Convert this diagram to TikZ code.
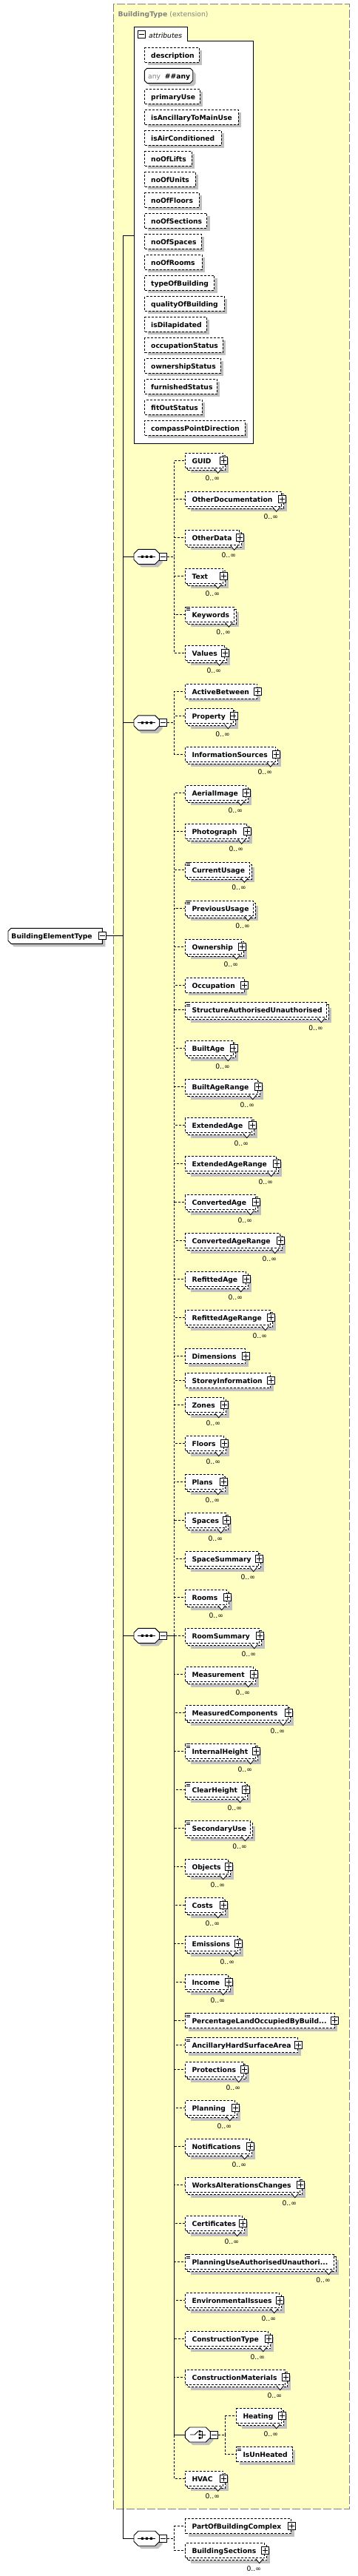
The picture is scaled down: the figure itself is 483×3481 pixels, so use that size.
\documentclass[tikz,border=0pt]{standalone}
\usepackage{fontspec}
\setmainfont{DejaVu Sans}
\usetikzlibrary{shadows}
\definecolor{boxyellow}{RGB}{255,255,196}
\definecolor{shadowgray}{RGB}{192,192,192}
\definecolor{framegray}{RGB}{128,128,128}
\newcommand\lblfont{\fontsize{9.2pt}{11pt}\selectfont}
\tikzset{
  lbl/.style={font=\lblfont\bfseries, inner sep=0pt, anchor=west, text height=8pt, text depth=0pt},
  occ/.style={font=\lblfont, inner sep=0pt, anchor=east, text height=6.6pt, text depth=0pt},
  dashstroke/.style={line width=0.9pt, dash pattern=on 3pt off 2pt},
  optline/.style={dashstroke},
  mainline/.style={line width=0.9pt},
  flatshadow/.style={drop shadow={shadow xshift=#1, shadow yshift=-#1, fill=shadowgray, opacity=1}},
  atbox/.style={draw, dashstroke, fill=white, anchor=west, inner sep=0pt, minimum height=20pt, flatshadow=4pt},
  elbox/.style={draw, dashstroke, fill=white, anchor=west, inner sep=0pt, minimum height=20pt, flatshadow=4pt},
  many/.style={flatshadow=7pt, copy shadow={shadow xshift=3pt, shadow yshift=-3pt, draw=black, fill=white, dashstroke}},
  pbox/.style={draw, solid, line width=0.8pt, fill=white, minimum size=10pt, inner sep=0pt,
    path picture={\draw[line width=0.8pt] ([xshift=-3.5pt]path picture bounding box.center) -- ([xshift=3.5pt]path picture bounding box.center) ([yshift=-3.5pt]path picture bounding box.center) -- ([yshift=3.5pt]path picture bounding box.center);}},
  mbox/.style={draw, solid, line width=0.8pt, fill=white, minimum size=10pt, inner sep=0pt,
    path picture={\draw[line width=0.8pt] ([xshift=-3.5pt]path picture bounding box.center) -- ([xshift=3.5pt]path picture bounding box.center);}},
  pics/seqsym/.style={code={
    \fill[shadowgray,xshift=4pt,yshift=-4pt] (-11.35,-10) -- (11.35,-10) -- (17.35,-4) -- (17.35,4) -- (11.35,10) -- (-11.35,10) -- (-17.35,4) -- (-17.35,-4) -- cycle;
    \filldraw[fill=white,line width=0.9pt] (-11.35,-10) -- (11.35,-10) -- (17.35,-4) -- (17.35,4) -- (11.35,10) -- (-11.35,10) -- (-17.35,4) -- (-17.35,-4) -- cycle;
    \node[inner sep=0pt, minimum width=34.7pt, minimum height=20pt] (-b) at (0,0) {};
    \draw[line width=0.9pt] (-12,0) -- (12,0);
    \fill (-7.6,-1.6) rectangle (-4.4,1.6) (-1.6,-1.6) rectangle (1.6,1.6) (4.4,-1.6) rectangle (7.6,1.6);
    \node[mbox] (-m) at (22.35,0) {};
  }},
  pics/choicesym/.style={code={
    \fill[shadowgray,xshift=4pt,yshift=-4pt] (-11,-10) -- (11,-10) -- (17,-4) -- (17,4) -- (11,10) -- (-11,10) -- (-17,4) -- (-17,-4) -- cycle;
    \filldraw[fill=white,line width=0.9pt] (-11,-10) -- (11,-10) -- (17,-4) -- (17,4) -- (11,10) -- (-11,10) -- (-17,4) -- (-17,-4) -- cycle;
    \node[inner sep=0pt, minimum width=34pt, minimum height=20pt] (-b) at (0,0) {};
    \draw[line width=0.9pt] (-10.5,0) -- (-4,0) -- (0.5,-4.5);
    \fill (1.2,-5.8) rectangle (3.8,-3.2) (1.2,-1.3) rectangle (3.8,1.3) (1.2,3.2) rectangle (3.8,5.8);
    \draw[line width=0.9pt] (3.8,-4.5) -- (6.5,-4.5) -- (6.5,4.5) -- (3.8,4.5) (3.8,0) -- (10.5,0);
    \node[mbox] (-m) at (22,0) {};
  }},
}
\newcommand\attr[3]{%
  \node[atbox, minimum width=#2pt-195.3pt] (#3) at (195.3,#1) {};
  \node[lbl] (#3-t) at ([xshift=8.7pt]#3.west) {#3};}
\newcommand\elem[6][]{%
  \node[elbox, #1, minimum width=#5pt-#3pt] (#2) at (#3,#4) {};
  \node[lbl] (#2-t) at ([xshift=9pt]#2.west) {#6};}
\newcommand\plus[1]{\node[pbox] (#1-p) at (#1.east) {};}
\newcommand\mult[1]{%
  \filldraw[fill=white, line width=0.8pt] ([xshift=-12.5pt,yshift=-0.5pt]#1.south east) -- ([xshift=-7.5pt,yshift=-6.5pt]#1.south east) -- ([xshift=-2.5pt,yshift=-0.5pt]#1.south east);
  \node[occ] (#1-o) at ([xshift=-5pt,yshift=-13.7pt]#1.south east) {0..∞};}
\newcommand\simple[1]{%
  \draw[line width=0.7pt] ([shift={(1.4pt,-0.3pt)}]#1.north west) -- ++(5pt,0pt) ([shift={(1.4pt,-2.6pt)}]#1.north west) -- ++(5pt,0pt) ([shift={(1.4pt,-4.9pt)}]#1.north west) -- ++(5pt,0pt);}

\begin{document}
\begin{tikzpicture}[x=1pt,y=-1pt]
\useasboundingbox (0,0) rectangle (483,3481);
\filldraw[fill=boxyellow, draw=framegray, line width=0.9pt, dash pattern=on 11pt off 3pt] (153.3,5.3) rectangle (472.3,3390);
\node[lbl, text=framegray] (title) at (159.3,18) {BuildingType \mdseries(extension)};
\filldraw[fill=white, line width=0.9pt] (181,599.3) -- (181,36) -- (253.3,36) -- (253.3,55.3) -- (342.3,55.3) -- (342.3,599.3) -- cycle;
\node[mbox] (attrs-m) at (191.7,46.7) {};
\node[lbl, font=\lblfont\itshape] (attrs-t) at (201,47) {attributes};
\coordinate (attrs-in) at (181,318.3);
\attr{74.3}{268.7}{description}
\fill[shadowgray, xshift=4pt, yshift=-4pt] (198.8,92.3) -- (257.2,92.3) -- (260.7,95.8) -- (260.7,108.8) -- (257.2,112.3) -- (198.8,112.3) -- (195.3,108.8) -- (195.3,95.8) -- cycle;
\filldraw[fill=white, line width=0.9pt] (198.8,92.3) -- (257.2,92.3) -- (260.7,95.8) -- (260.7,108.8) -- (257.2,112.3) -- (198.8,112.3) -- (195.3,108.8) -- (195.3,95.8) -- cycle;
\node[inner sep=0pt, minimum width=65.4pt, minimum height=20pt, anchor=west] (anyattr) at (195.3,102.3) {};
\node[lbl, font=\lblfont, text=framegray] (anyattr-a) at (200,102.3) {any};
\node[lbl] (anyattr-t) at (222.7,102.3) {\#\#any};
\attr{130.3}{269.7}{primaryUse}
\attr{158.3}{322}{isAncillaryToMainUse}
\attr{186.3}{298.7}{isAirConditioned}
\attr{214.3}{258.7}{noOfLifts}
\attr{242.3}{263.7}{noOfUnits}
\attr{270.3}{268.7}{noOfFloors}
\attr{298.3}{279.3}{noOfSections}
\attr{326.3}{271.7}{noOfSpaces}
\attr{354.3}{272.7}{noOfRooms}
\attr{382.3}{289.3}{typeOfBuilding}
\attr{410.3}{302.7}{qualityOfBuilding}
\attr{438.3}{278.7}{isDilapidated}
\attr{466.3}{300.7}{occupationStatus}
\attr{494.3}{297.7}{ownershipStatus}
\attr{522.3}{292.7}{furnishedStatus}
\attr{550.3}{272.7}{fitOutStatus}
\attr{578.3}{331}{compassPointDirection}
\fill[shadowgray, xshift=4pt, yshift=-4pt] (15,1254.3) -- (138.3,1254.3) -- (138.3,1275.3) -- (15,1275.3) -- (11,1271.3) -- (11,1258.3) -- cycle;
\filldraw[fill=white, line width=0.9pt] (15,1254.3) -- (138.3,1254.3) -- (138.3,1275.3) -- (15,1275.3) -- (11,1271.3) -- (11,1258.3) -- cycle;
\node[inner sep=0pt, minimum width=127.3pt, minimum height=21pt, anchor=west] (bet) at (11,1264.8) {};
\node[lbl] (bet-t) at (15.3,1264.8) {BuildingElementType};
\node[mbox] (bet-m) at (bet.east) {};
\coordinate (trunk) at (166.3,1264.8);
\pic (seq1) at (198.35,752.3) {seqsym};
\pic (seq2) at (198.35,976.8) {seqsym};
\pic (seq3) at (198.35,2210.3) {seqsym};
\pic (seq4) at (198.35,3430.2) {seqsym};
\draw[mainline] (bet-m.east) -- (trunk);
\draw[mainline] (trunk) |- (attrs-in);
\draw[mainline] (trunk) |- (seq1-b.west);
\draw[mainline] (trunk) |- (seq2-b.west);
\draw[mainline] (trunk) |- (seq3-b.west);
\draw[mainline] (trunk) |- (seq4-b.west);
\elem[many]{GUID}{250.3}{622.3}{301.3}{GUID}
\plus{GUID} \mult{GUID}
\elem[many]{OtherDocumentation}{250.3}{674.3}{380.3}{OtherDocumentation}
\plus{OtherDocumentation} \mult{OtherDocumentation}
\elem[many]{OtherData}{250.3}{726.3}{323.3}{OtherData}
\plus{OtherData} \mult{OtherData}
\elem[many]{Text}{250.3}{778.3}{301.3}{Text}
\plus{Text} \mult{Text}
\elem[many]{Keywords}{250.3}{830.3}{316}{Keywords}
\simple{Keywords} \mult{Keywords}
\elem[many]{Values}{250.3}{882.3}{303.3}{Values}
\plus{Values} \mult{Values}
\draw[optline] (seq1-m.east) -- ++(9.6pt,0pt) |- (GUID.west);
\draw[optline] (seq1-m.east) -- ++(9.6pt,0pt) |- (OtherDocumentation.west);
\draw[optline] (seq1-m.east) -- ++(9.6pt,0pt) |- (OtherData.west);
\draw[optline] (seq1-m.east) -- ++(9.6pt,0pt) |- (Text.west);
\draw[optline] (seq1-m.east) -- ++(9.6pt,0pt) |- (Keywords.west);
\draw[optline] (seq1-m.east) -- ++(9.6pt,0pt) |- (Values.west);
\elem{ActiveBetween}{250.3}{934.3}{347.3}{ActiveBetween}
\plus{ActiveBetween}
\elem[many]{Property}{250.3}{967.7}{315}{Property}
\plus{Property} \mult{Property}
\elem[many]{InformationSources}{250.3}{1019.3}{372.3}{InformationSources}
\plus{InformationSources} \mult{InformationSources}
\draw[optline] (seq2-m.east) -- ++(9.6pt,0pt) |- (ActiveBetween.west);
\draw[optline] (seq2-m.east) -- ++(9.6pt,0pt) |- (Property.west);
\draw[optline] (seq2-m.east) -- ++(9.6pt,0pt) |- (InformationSources.west);
\elem[many]{AerialImage}{250.3}{1071.3}{332.3}{AerialImage}
\plus{AerialImage} \mult{AerialImage}
\elem[many]{Photograph}{250.3}{1123.3}{333.3}{Photograph}
\plus{Photograph} \mult{Photograph}
\elem[many]{CurrentUsage}{250.3}{1175.3}{337}{CurrentUsage}
\simple{CurrentUsage} \mult{CurrentUsage}
\elem[many]{PreviousUsage}{250.3}{1227.3}{342}{PreviousUsage}
\simple{PreviousUsage} \mult{PreviousUsage}
\elem[many]{Ownership}{250.3}{1279.3}{326.3}{Ownership}
\plus{Ownership} \mult{Ownership}
\elem{Occupation}{250.3}{1331.3}{329.7}{Occupation}
\plus{Occupation}
\elem[many]{StructureAU}{250.3}{1364.7}{441}{StructureAuthorisedUnauthorised}
\simple{StructureAU} \mult{StructureAU}
\elem[many]{BuiltAge}{250.3}{1416.7}{315}{BuiltAge}
\plus{BuiltAge} \mult{BuiltAge}
\elem[many]{BuiltAgeRange}{250.3}{1468.7}{348.3}{BuiltAgeRange}
\plus{BuiltAgeRange} \mult{BuiltAgeRange}
\elem[many]{ExtendedAge}{250.3}{1520.7}{340.3}{ExtendedAge}
\plus{ExtendedAge} \mult{ExtendedAge}
\elem[many]{ExtendedAgeRange}{250.3}{1572.7}{373.3}{ExtendedAgeRange}
\plus{ExtendedAgeRange} \mult{ExtendedAgeRange}
\elem[many]{ConvertedAge}{250.3}{1624.7}{345.3}{ConvertedAge}
\plus{ConvertedAge} \mult{ConvertedAge}
\elem[many]{ConvertedAgeRange}{250.3}{1676.7}{378.3}{ConvertedAgeRange}
\plus{ConvertedAgeRange} \mult{ConvertedAgeRange}
\elem[many]{RefittedAge}{250.3}{1728.7}{332.3}{RefittedAge}
\plus{RefittedAge} \mult{RefittedAge}
\elem[many]{RefittedAgeRange}{250.3}{1780.7}{365.3}{RefittedAgeRange}
\plus{RefittedAgeRange} \mult{RefittedAgeRange}
\elem{Dimensions}{250.3}{1832.7}{331.3}{Dimensions}
\plus{Dimensions}
\elem{StoreyInformation}{250.3}{1865.7}{365.3}{StoreyInformation}
\plus{StoreyInformation}
\elem[many]{Zones}{250.3}{1898.7}{302.3}{Zones}
\plus{Zones} \mult{Zones}
\elem[many]{Floors}{250.3}{1950.7}{302.3}{Floors}
\plus{Floors} \mult{Floors}
\elem[many]{Plans}{250.3}{2002.7}{301.3}{Plans}
\plus{Plans} \mult{Plans}
\elem[many]{Spaces}{250.3}{2054.7}{305.3}{Spaces}
\plus{Spaces} \mult{Spaces}
\elem[many]{SpaceSummary}{250.3}{2106.7}{349.3}{SpaceSummary}
\plus{SpaceSummary} \mult{SpaceSummary}
\elem[many]{Rooms}{250.3}{2158.7}{306.3}{Rooms}
\plus{Rooms} \mult{Rooms}
\elem[many]{RoomSummary}{250.3}{2210.7}{350.3}{RoomSummary}
\plus{RoomSummary} \mult{RoomSummary}
\elem[many]{Measurement}{250.3}{2262.7}{342.3}{Measurement}
\plus{Measurement} \mult{Measurement}
\elem[many]{MeasuredComponents}{250.3}{2314.7}{389.3}{MeasuredComponents}
\plus{MeasuredComponents} \mult{MeasuredComponents}
\elem[many]{InternalHeight}{250.3}{2366.7}{345.3}{InternalHeight}
\simple{InternalHeight} \plus{InternalHeight} \mult{InternalHeight}
\elem[many]{ClearHeight}{250.3}{2418.7}{331.3}{ClearHeight}
\simple{ClearHeight} \plus{ClearHeight} \mult{ClearHeight}
\elem[many]{SecondaryUse}{250.3}{2470.7}{338}{SecondaryUse}
\simple{SecondaryUse} \mult{SecondaryUse}
\elem[many]{Objects}{250.3}{2522.7}{308.3}{Objects}
\plus{Objects} \mult{Objects}
\elem[many]{Costs}{250.3}{2574.7}{301.3}{Costs}
\plus{Costs} \mult{Costs}
\elem[many]{Emissions}{250.3}{2626.7}{321.3}{Emissions}
\plus{Emissions} \mult{Emissions}
\elem[many]{Income}{250.3}{2678.7}{308.3}{Income}
\plus{Income} \mult{Income}
\elem{PercentageLand}{250.3}{2730.7}{451.7}{PercentageLandOccupiedByBuild...}
\simple{PercentageLand} \plus{PercentageLand}
\elem{AncillaryHardSurfaceArea}{250.3}{2763.7}{402.3}{AncillaryHardSurfaceArea}
\simple{AncillaryHardSurfaceArea} \plus{AncillaryHardSurfaceArea}
\elem[many]{Protections}{250.3}{2796.7}{329.3}{Protections}
\plus{Protections} \mult{Protections}
\elem[many]{Planning}{250.3}{2848.7}{317.3}{Planning}
\plus{Planning} \mult{Planning}
\elem[many]{Notifications}{250.3}{2900.7}{337.3}{Notifications}
\plus{Notifications} \mult{Notifications}
\elem[many]{WorksAlterationsChanges}{250.3}{2952.7}{405.3}{WorksAlterationsChanges}
\plus{WorksAlterationsChanges} \mult{WorksAlterationsChanges}
\elem[many]{Certificates}{250.3}{3004.7}{327.3}{Certificates}
\plus{Certificates} \mult{Certificates}
\elem[many]{PlanningUseAU}{250.3}{3056.7}{451}{PlanningUseAuthorisedUnauthori...}
\simple{PlanningUseAU} \mult{PlanningUseAU}
\elem[many]{EnvironmentalIssues}{250.3}{3108.7}{377.3}{EnvironmentalIssues}
\plus{EnvironmentalIssues} \mult{EnvironmentalIssues}
\elem[many]{ConstructionType}{250.3}{3160.7}{362.3}{ConstructionType}
\plus{ConstructionType} \mult{ConstructionType}
\elem[many]{ConstructionMaterials}{250.3}{3212.7}{385.3}{ConstructionMaterials}
\plus{ConstructionMaterials} \mult{ConstructionMaterials}
\pic (ch) at (267.3,3290) {choicesym};
\elem[many]{Heating}{319.3}{3264.7}{380.3}{Heating}
\plus{Heating} \mult{Heating}
\elem{IsUnHeated}{319.3}{3316.7}{395}{IsUnHeated}
\simple{IsUnHeated}
\elem[many]{HVAC}{250.3}{3349.3}{301.3}{HVAC}
\plus{HVAC} \mult{HVAC}
\draw[optline] (seq3-m.east) -- ++(9.6pt,0pt) |- (AerialImage.west);
\draw[optline] (seq3-m.east) -- ++(9.6pt,0pt) |- (Photograph.west);
\draw[optline] (seq3-m.east) -- ++(9.6pt,0pt) |- (CurrentUsage.west);
\draw[optline] (seq3-m.east) -- ++(9.6pt,0pt) |- (PreviousUsage.west);
\draw[optline] (seq3-m.east) -- ++(9.6pt,0pt) |- (Ownership.west);
\draw[optline] (seq3-m.east) -- ++(9.6pt,0pt) |- (Occupation.west);
\draw[optline] (seq3-m.east) -- ++(9.6pt,0pt) |- (StructureAU.west);
\draw[optline] (seq3-m.east) -- ++(9.6pt,0pt) |- (BuiltAge.west);
\draw[optline] (seq3-m.east) -- ++(9.6pt,0pt) |- (BuiltAgeRange.west);
\draw[optline] (seq3-m.east) -- ++(9.6pt,0pt) |- (ExtendedAge.west);
\draw[optline] (seq3-m.east) -- ++(9.6pt,0pt) |- (ExtendedAgeRange.west);
\draw[optline] (seq3-m.east) -- ++(9.6pt,0pt) |- (ConvertedAge.west);
\draw[optline] (seq3-m.east) -- ++(9.6pt,0pt) |- (ConvertedAgeRange.west);
\draw[optline] (seq3-m.east) -- ++(9.6pt,0pt) |- (RefittedAge.west);
\draw[optline] (seq3-m.east) -- ++(9.6pt,0pt) |- (RefittedAgeRange.west);
\draw[optline] (seq3-m.east) -- ++(9.6pt,0pt) |- (Dimensions.west);
\draw[optline] (seq3-m.east) -- ++(9.6pt,0pt) |- (StoreyInformation.west);
\draw[optline] (seq3-m.east) -- ++(9.6pt,0pt) |- (Zones.west);
\draw[optline] (seq3-m.east) -- ++(9.6pt,0pt) |- (Floors.west);
\draw[optline] (seq3-m.east) -- ++(9.6pt,0pt) |- (Plans.west);
\draw[optline] (seq3-m.east) -- ++(9.6pt,0pt) |- (Spaces.west);
\draw[optline] (seq3-m.east) -- ++(9.6pt,0pt) |- (SpaceSummary.west);
\draw[optline] (seq3-m.east) -- ++(9.6pt,0pt) |- (Rooms.west);
\draw[optline] (seq3-m.east) -- ++(9.6pt,0pt) |- (RoomSummary.west);
\draw[optline] (seq3-m.east) -- ++(9.6pt,0pt) |- (Measurement.west);
\draw[optline] (seq3-m.east) -- ++(9.6pt,0pt) |- (MeasuredComponents.west);
\draw[optline] (seq3-m.east) -- ++(9.6pt,0pt) |- (InternalHeight.west);
\draw[optline] (seq3-m.east) -- ++(9.6pt,0pt) |- (ClearHeight.west);
\draw[optline] (seq3-m.east) -- ++(9.6pt,0pt) |- (SecondaryUse.west);
\draw[optline] (seq3-m.east) -- ++(9.6pt,0pt) |- (Objects.west);
\draw[optline] (seq3-m.east) -- ++(9.6pt,0pt) |- (Costs.west);
\draw[optline] (seq3-m.east) -- ++(9.6pt,0pt) |- (Emissions.west);
\draw[optline] (seq3-m.east) -- ++(9.6pt,0pt) |- (Income.west);
\draw[optline] (seq3-m.east) -- ++(9.6pt,0pt) |- (PercentageLand.west);
\draw[optline] (seq3-m.east) -- ++(9.6pt,0pt) |- (AncillaryHardSurfaceArea.west);
\draw[optline] (seq3-m.east) -- ++(9.6pt,0pt) |- (Protections.west);
\draw[optline] (seq3-m.east) -- ++(9.6pt,0pt) |- (Planning.west);
\draw[optline] (seq3-m.east) -- ++(9.6pt,0pt) |- (Notifications.west);
\draw[optline] (seq3-m.east) -- ++(9.6pt,0pt) |- (WorksAlterationsChanges.west);
\draw[optline] (seq3-m.east) -- ++(9.6pt,0pt) |- (Certificates.west);
\draw[optline] (seq3-m.east) -- ++(9.6pt,0pt) |- (PlanningUseAU.west);
\draw[optline] (seq3-m.east) -- ++(9.6pt,0pt) |- (EnvironmentalIssues.west);
\draw[optline] (seq3-m.east) -- ++(9.6pt,0pt) |- (ConstructionType.west);
\draw[optline] (seq3-m.east) -- ++(9.6pt,0pt) |- (ConstructionMaterials.west);
\draw[optline] (seq3-m.east) -- ++(9.6pt,0pt) |- (HVAC.west);
\draw[mainline] (seq3-m.east) -- ++(9.6pt,0pt) |- (ch-b.west);
\draw[optline] (ch-m.east) -- ++(10pt,0pt) |- (Heating.west);
\draw[optline] (ch-m.east) -- ++(10pt,0pt) |- (IsUnHeated.west);
\elem{PartOfBuildingComplex}{250.3}{3413.7}{393.3}{PartOfBuildingComplex}
\plus{PartOfBuildingComplex}
\elem[many]{BuildingSections}{250.3}{3446.7}{357.3}{BuildingSections}
\plus{BuildingSections} \mult{BuildingSections}
\draw[optline] (seq4-m.east) -- ++(9.6pt,0pt) |- (PartOfBuildingComplex.west);
\draw[optline] (seq4-m.east) -- ++(9.6pt,0pt) |- (BuildingSections.west);
\end{tikzpicture}
\end{document}
